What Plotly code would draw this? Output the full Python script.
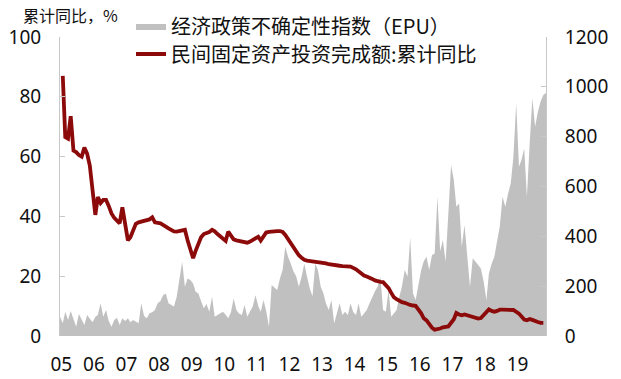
import pandas as pd
import plotly.graph_objects as go

# ---------------- data ----------------
years = list(range(2005, 2020))
year_labels = [f"{y % 100:02d}" for y in years]
months = pd.date_range("2005-01-01", "2019-12-01", freq="MS")

# China Economic Policy Uncertainty index (right axis), Jan..Dec per year
epu_2005 = [77, 51, 97, 64, 100, 70, 37, 88, 65, 44, 84, 67]
epu_2006 = [55, 77, 84, 131, 77, 104, 60, 37, 64, 73, 44, 71]
epu_2007 = [60, 71, 55, 64, 58, 51, 131, 80, 71, 91, 95, 104]
epu_2008 = [131, 140, 164, 171, 131, 125, 118, 158, 238, 298, 198, 231]
epu_2009 = [225, 211, 178, 171, 140, 111, 128, 97, 158, 77, 84, 90]
epu_2010 = [97, 85, 71, 95, 151, 104, 90, 84, 124, 77, 95, 118]
epu_2011 = [164, 120, 97, 144, 100, 37, 205, 195, 185, 230, 265, 358]
epu_2012 = [318, 290, 260, 240, 198, 238, 291, 238, 190, 160, 291, 265]
epu_2013 = [198, 171, 130, 104, 144, 51, 90, 131, 84, 97, 84, 131]
epu_2014 = [95, 84, 131, 77, 90, 104, 130, 158, 180, 198, 238, 104]
epu_2015 = [97, 185, 77, 90, 104, 158, 200, 265, 238, 395, 171, 144]
epu_2016 = [198, 265, 300, 318, 265, 325, 330, 559, 340, 385, 298, 492]
epu_2017 = [686, 626, 519, 532, 358, 445, 332, 198, 312, 300, 285, 271]
epu_2018 = [220, 144, 251, 290, 318, 380, 439, 559, 519, 570, 613, 720]
epu_2019 = [934, 679, 706, 753, 559, 773, 954, 840, 900, 940, 967, 975]

# Private fixed-asset investment, cumulative YoY % (left axis), Jan..Dec
fai_2005 = [None, 87, 66.5, 66, 73.5, 62, 61.5, 60.5, 60, 63, 61, 57]
fai_2006 = [None, 40.5, 46.5, 44.5, 45.5, 45.5, 43.5, 41, 39.5, 38.5, 37.7, 43]
fai_2007 = [None, 32, 33, 35.5, 37.5, 38, 38.2, 38.3, 38.6, 39, 39.7, 38]
fai_2008 = [None, 37.7, 37.3, 36.6, 36, 35.5, 35, 34.9, 35.1, 35.3, 35.5, 32]
fai_2009 = [None, 26, 28.5, 31, 33, 34.1, 34.3, 34.8, 35.5, 35, 34.1, 33.4]
fai_2010 = [None, 31.8, 34.9, 33.5, 32.3, 32, 31.8, 31.5, 31.2, 31.2, 31.6, 32.1]
fai_2011 = [None, 33.2, 31.9, 33.5, 34.6, 34.8, 35, 35.1, 35.1, 35.1, 34.8, 33.8]
fai_2012 = [None, 31, 29.5, 28.2, 27, 26.2, 25.5, 25.2, 25.1, 25, 24.9, 24.8]
fai_2013 = [None, 24.5, 24.3, 24, 23.8, 23.7, 23.6, 23.5, 23.4, 23.3, 23.3, 23.2]
fai_2014 = [None, 22.3, 21.5, 20.9, 20.2, 19.9, 19.6, 19.1, 18.6, 18.2, 18.1, 18]
fai_2015 = [None, 16, 14.5, 13, 12.3, 11.7, 11.3, 11.1, 10.6, 10.4, 10.2, 10.1]
fai_2016 = [None, 7.6, 5.9, 5.2, 3.9, 2.8, 2.1, 2.2, 2.5, 2.9, 3.1, 3.2]
fai_2017 = [None, 5.6, 7.7, 7.2, 6.9, 7.2, 6.9, 6.4, 6.2, 6.0, 5.8, 6.0]
fai_2018 = [None, 8.1, 8.9, 8.4, 8.1, 8.4, 8.8, 8.8, 8.8, 8.9, 8.9, 8.7]
fai_2019 = [None, 7.5, 6.4, 5.5, 5.3, 5.7, 5.4, 4.9, 4.7, 4.4, 4.4, None]

epu = (epu_2005 + epu_2006 + epu_2007 + epu_2008 + epu_2009 + epu_2010 + epu_2011
       + epu_2012 + epu_2013 + epu_2014 + epu_2015 + epu_2016 + epu_2017 + epu_2018
       + epu_2019)
fai = (fai_2005 + fai_2006 + fai_2007 + fai_2008 + fai_2009 + fai_2010 + fai_2011
       + fai_2012 + fai_2013 + fai_2014 + fai_2015 + fai_2016 + fai_2017 + fai_2018
       + fai_2019)

epu_name = "经济政策不确定性指数（EPU）"
fai_name = "民间固定资产投资完成额:累计同比"
left_title = "累计同比，%"

# ---------------- figure ----------------
W, H = 621, 379
ML, MR, MT, MB = 60, 75, 37, 43
PW, PH = W - ML - MR, H - MT - MB


def px_x(p):
    return (p - ML) / PW


def px_y(p):
    return (H - MB - p) / PH


GREY = "#c0c0c0"
RED = "#8c0a0a"
AXIS = "#c8c8c8"
TICKFONT = dict(family="Noto Sans, Noto Sans CJK SC", size=19, color="#111111")
CJK = "Noto Sans CJK SC"

fig = go.Figure()
fig.add_trace(go.Scatter(
    x=months, y=epu, name=epu_name, mode="lines", fill="tozeroy",
    fillcolor=GREY, line=dict(width=0, color=GREY), yaxis="y", legend="legend",
))
fig.add_trace(go.Scatter(
    x=months, y=fai, name=fai_name, mode="lines", connectgaps=True,
    line=dict(width=3.8, color=RED), yaxis="y2", legend="legend2",
))

fig.update_layout(
    width=W, height=H,
    margin=dict(l=ML, r=MR, t=MT, b=MB, autoexpand=False),
    paper_bgcolor="white", plot_bgcolor="white",
    xaxis=dict(
        type="date", range=["2005-01-01", "2019-12-01"],
        tickvals=[f"{y}-01-16" for y in years], ticktext=year_labels,
        showgrid=False, zeroline=False, showline=False, ticks="",
        tickfont=TICKFONT, ticklabelstandoff=15, automargin=False,
    ),
    yaxis=dict(
        side="right", range=[0, 1200], dtick=200,
        showgrid=False, zeroline=False, showline=True, linecolor=AXIS, linewidth=1,
        ticks="inside", ticklen=5, tickcolor=AXIS, tickfont=TICKFONT,
        ticklabelstandoff=14, automargin=False,
    ),
    yaxis2=dict(
        overlaying="y", side="left", range=[0, 100], dtick=20,
        showgrid=False, zeroline=False, showline=True, linecolor=AXIS, linewidth=1,
        ticks="inside", ticklen=5, tickcolor=AXIS, tickfont=TICKFONT,
        ticklabelstandoff=14, automargin=False,
    ),
    legend=dict(
        x=px_x(131), y=px_y(26), xanchor="left", yanchor="middle",
        bgcolor="rgba(0,0,0,0)", font=dict(family=CJK, size=20, color="#111111"),
        itemwidth=30,
    ),
    legend2=dict(
        x=px_x(131), y=px_y(54), xanchor="left", yanchor="middle",
        bgcolor="rgba(0,0,0,0)", font=dict(family=CJK, size=20, color="#111111"),
        itemwidth=30,
    ),
    showlegend=True,
    annotations=[dict(
        text=left_title, xref="paper", yref="paper",
        x=px_x(21), y=px_y(15), xanchor="left", yanchor="middle",
        showarrow=False, font=dict(family=CJK, size=16, color="#111111"),
    )],
)

fig.write_html(
    "out.html",
    config={"displayModeBar": False},
    post_script="document.body.style.margin='0';document.body.style.overflow='hidden';",
)
